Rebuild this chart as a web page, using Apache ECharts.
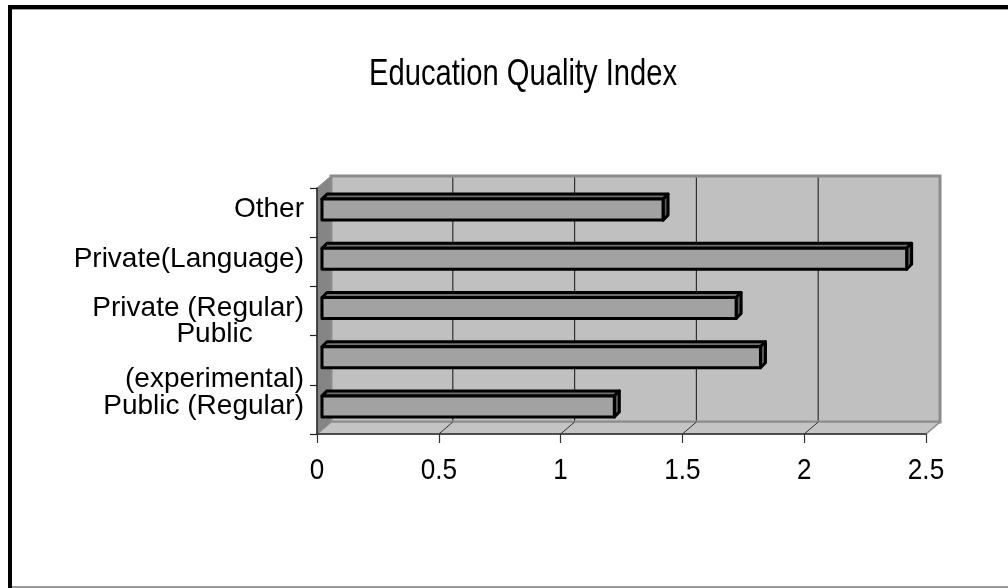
<!DOCTYPE html>
<html>
<head>
<meta charset="utf-8">
<title>Education Quality Index</title>
<script src="https://cdn.jsdelivr.net/npm/echarts@6/dist/echarts.min.js"></script>
<style>
  html, body { margin: 0; padding: 0; background: #ffffff; }
  #chart { width: 1008px; height: 588px; }
</style>
</head>
<body>
<div id="chart"></div>
<script>
// Categories listed from the bottom of the axis to the top
const categories = ['Public (Regular)', 'Public\n(experimental)', 'Private (Regular)', 'Private(Language)', 'Other'];
const qualityIndex = [1.2, 1.8, 1.7, 2.4, 1.4];
const xTicks = [0, 0.5, 1, 1.5, 2, 2.5];
const xTickLabels = ['0', '0.5', '1', '1.5', '2', '2.5'];

const FONT = '"Liberation Sans", Arial, sans-serif';

// 3D look: offset of the back wall, of the bar front faces and bar depth
const WALL = [14, -12];
const BAR_FRONT = [5, -3];
const BAR_DEPTH = [5, -5];
const BAR_THICK = 21;

const chart = echarts.init(document.getElementById('chart'), null, { renderer: 'canvas' });

function plotFrame(api) {
  const band = api.size([0, 1])[1];
  return {
    x0: api.coord([xTicks[0], 0])[0],
    x1: api.coord([xTicks[xTicks.length - 1], 0])[0],
    yB: api.coord([0, 0])[1] + band / 2,
    yT: api.coord([0, categories.length - 1])[1] - band / 2
  };
}

function renderWalls(params, api) {
  const f = plotFrame(api);
  const x0 = f.x0, x1 = f.x1, yB = f.yB, yT = f.yT;
  const dx = WALL[0], dy = WALL[1];
  const children = [];
  // back wall
  children.push({
    type: 'rect',
    shape: { x: x0 + dx, y: yT + dy, width: x1 - x0, height: yB - yT },
    style: { fill: '#c0c0c0', stroke: '#8c8c8c', lineWidth: 3 }
  });
  // floor
  children.push({
    type: 'polygon',
    shape: { points: [[x0, yB], [x0 + dx, yB + dy], [x1 + dx, yB + dy], [x1, yB]] },
    style: { fill: '#c4c4c4', stroke: '#8c8c8c', lineWidth: 1.5 }
  });
  // left wall
  children.push({
    type: 'polygon',
    shape: { points: [[x0, yT], [x0 + dx, yT + dy], [x0 + dx, yB + dy], [x0, yB]] },
    style: { fill: '#858585', stroke: '#8c8c8c', lineWidth: 1 }
  });
  // vertical grid lines on the back wall and their slanted traces on the floor
  xTicks.forEach(function (t, i) {
    if (i === 0 || i === xTicks.length - 1) return;
    const x = api.coord([t, 0])[0];
    children.push({
      type: 'line',
      shape: { x1: x + dx, y1: yT + dy + 1.5, x2: x + dx, y2: yB + dy - 1.5 },
      style: { stroke: '#303030', lineWidth: 1.2 }
    });
    children.push({
      type: 'line',
      shape: { x1: x, y1: yB, x2: x + dx, y2: yB + dy },
      style: { stroke: '#303030', lineWidth: 1 }
    });
  });
  return { type: 'group', children: children };
}

// value-axis tick labels, set in a condensed face under each tick
function renderXLabels(params, api) {
  const f = plotFrame(api);
  const x = api.coord([api.value(0), 0])[0];
  return {
    type: 'text',
    x: x,
    y: f.yB + 22,
    scaleX: 0.87,
    style: {
      text: xTickLabels[params.dataIndex],
      fontFamily: FONT,
      fontSize: 30,
      fill: '#000000',
      align: 'center',
      verticalAlign: 'top'
    }
  };
}

function renderBar(params, api) {
  const v = api.value(0);
  const idx = api.value(1);
  const p0 = api.coord([0, idx]);
  const p1 = api.coord([v, idx]);
  const xL = p0[0] + BAR_FRONT[0];
  const xR = p1[0] + BAR_FRONT[0];
  const yc = p0[1] + BAR_FRONT[1];
  const yTop = yc - BAR_THICK / 2;
  const yBot = yc + BAR_THICK / 2;
  const bx = BAR_DEPTH[0], by = BAR_DEPTH[1];
  const edge = { stroke: '#000000', lineWidth: 3, lineJoin: 'round' };
  return {
    type: 'group',
    children: [
      {
        type: 'polygon',
        shape: { points: [[xL, yTop], [xL + bx, yTop + by], [xR + bx, yTop + by], [xR, yTop]] },
        style: Object.assign({ fill: '#707070' }, edge)
      },
      {
        type: 'polygon',
        shape: { points: [[xR, yTop], [xR + bx, yTop + by], [xR + bx, yBot + by], [xR, yBot]] },
        style: Object.assign({ fill: '#5a5a5a' }, edge)
      },
      {
        type: 'rect',
        shape: { x: xL, y: yTop, width: xR - xL, height: BAR_THICK },
        style: Object.assign({ fill: '#a2a2a2' }, edge)
      }
    ]
  };
}

const option = {
  backgroundColor: '#ffffff',
  animation: false,
  grid: { left: 317, right: 82, top: 188, bottom: 154, containLabel: false },
  xAxis: {
    type: 'value',
    min: 0,
    max: 2.5,
    interval: 0.5,
    z: 5,
    axisLine: { show: true, lineStyle: { color: '#333333', width: 1.5 } },
    axisTick: { show: true, length: 9, lineStyle: { color: '#333333', width: 1.2 } },
    splitLine: { show: false },
    axisLabel: { show: false }
  },
  yAxis: {
    type: 'category',
    data: categories,
    z: 5,
    axisLine: { show: true, lineStyle: { color: '#222222', width: 1.5 } },
    axisTick: { show: true, length: 7, lineStyle: { color: '#222222', width: 1.2 } },
    axisLabel: {
      interval: 0,
      hideOverlap: false,
      fontFamily: FONT,
      fontSize: 28,
      color: '#000000',
      margin: 13,
      lineHeight: 45,
      padding: [0, 0, 6, 0],
      formatter: function (value) {
        const lines = value.split('\n');
        if (lines.length === 1) return value;
        return lines.map(function (l, i) {
          return (i < lines.length - 1 ? '{c|' : '{d|') + l + '}';
        }).join('\n');
      },
      rich: {
        c: { fontFamily: FONT, fontSize: 28, color: '#000000', align: 'center', lineHeight: 45 },
        d: { fontFamily: FONT, fontSize: 28, color: '#000000', lineHeight: 45 }
      }
    }
  },
  graphic: [
    { type: 'rect', shape: { x: 8, y: 5, width: 1000, height: 4 }, style: { fill: '#000000' }, z: 20 },
    { type: 'rect', shape: { x: 8, y: 9, width: 1000, height: 1 }, style: { fill: '#a0a0a0' }, z: 20 },
    { type: 'rect', shape: { x: 8, y: 5, width: 4, height: 583 }, style: { fill: '#000000' }, z: 20 },
    { type: 'rect', shape: { x: 12, y: 586, width: 996, height: 2 }, style: { fill: '#9a9a9a' }, z: 20 },
    {
      type: 'text', x: 523, y: 75, z: 20, scaleX: 0.81,
      style: {
        text: 'Education Quality Index', fontFamily: FONT, fontSize: 36,
        fill: '#000000', align: 'center', verticalAlign: 'middle'
      }
    }
  ],
  series: [
    {
      type: 'custom',
      name: 'walls',
      z: 1,
      silent: true,
      renderItem: renderWalls,
      encode: { x: 0, y: 1 },
      data: [[0, 0]]
    },
    {
      type: 'custom',
      name: 'ticks',
      z: 6,
      silent: true,
      renderItem: renderXLabels,
      encode: { x: 0, y: 1 },
      data: xTicks.map(function (t) { return [t, 0]; })
    },
    {
      type: 'custom',
      name: 'Education Quality Index',
      z: 10,
      renderItem: renderBar,
      encode: { x: 0, y: 1 },
      data: qualityIndex.map(function (v, i) { return [v, i]; })
    }
  ]
};

chart.setOption(option);
</script>
</body>
</html>
